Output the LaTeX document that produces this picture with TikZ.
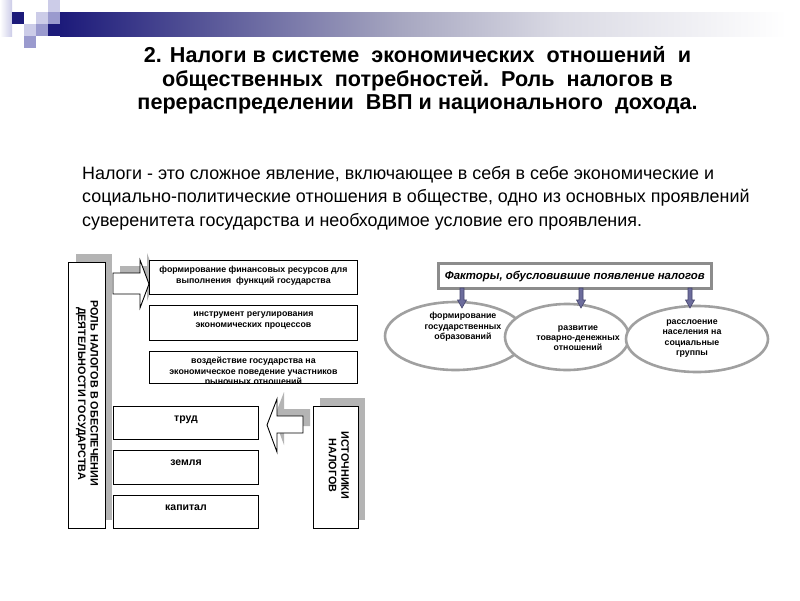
\documentclass[tikz,border=0pt]{standalone}
\usepackage{fontspec}
\setmainfont{Liberation Sans}
\usetikzlibrary{calc,shapes.geometric}
\definecolor{navy}{HTML}{1C1A7A}
\definecolor{lav}{HTML}{CCCCE8}
\definecolor{medlav}{HTML}{9A9ACE}
\definecolor{barmid}{HTML}{A6A6C0}
\definecolor{barlight}{HTML}{DADAE4}
\definecolor{shadowgray}{HTML}{B4B4B4}
\definecolor{ellgray}{HTML}{A0A0A0}
\definecolor{fboxgray}{HTML}{8C8C8C}
\definecolor{arrfill}{HTML}{6C6C9C}
\definecolor{arrdraw}{HTML}{46466E}
\tikzset{
  rbox/.style={draw=black, line width=0.9pt, fill=white, inner sep=0pt},
  shbox/.style={fill=shadowgray, draw=none, inner sep=0pt},
  btext/.style={font=\fontsize{8.8}{10.5}\selectfont\bfseries, align=center, inner sep=0pt},
  ltext/.style={font=\fontsize{10.5}{12}\selectfont\bfseries, align=center, inner sep=0pt},
  vtext/.style={font=\fontsize{10.8}{12.5}\selectfont\bfseries, align=center, inner sep=0pt, rotate=-90},
  ell/.style={draw=ellgray, line width=2.6pt, fill=white},
  etext/.style={font=\fontsize{8.8}{10.3}\selectfont\bfseries, align=center, inner sep=0pt},
  blockarrow/.style={draw=black, line width=0.9pt, fill=white},
  farrow/.style={draw=arrdraw, line width=0.6pt, fill=arrfill}
}
\newcommand{\fArrow}[3]{%
  \draw[farrow] (#1-2,#2) -- (#1+2,#2) -- (#1+2,#3-8) -- (#1+4.5,#3-8) -- (#1,#3)
    -- (#1-4.5,#3-8) -- (#1-2,#3-8) -- cycle;}
\begin{document}
\begin{tikzpicture}[x=1pt,y=-1pt]
\useasboundingbox[fill=white] (0,0) rectangle (800,600);
% --- top decoration ---
\shade[left color=white, right color=lav] (0,0) rectangle (12,36);
\fill[lav] (48,0) rectangle (60,12);
\fill[navy] (12,12) rectangle (24,24);
\fill[lav] (36,12) rectangle (48,24);
\fill[medlav] (48,12) rectangle (60,24);
\fill[lav] (24,24) rectangle (36,36);
\fill[medlav] (36,24) rectangle (48,36);
\fill[navy] (48,24) rectangle (60,36);
\fill[medlav] (24,36) rectangle (36,48);
\shade[left color=navy, right color=barmid] (60,12) rectangle (400,36);
\shade[left color=barmid, right color=barlight] (399.5,12) rectangle (560,36);
\shade[left color=barlight, right color=white] (559.5,12) rectangle (787,36);
% --- title ---
\node[font=\fontsize{21.6}{23.5}\selectfont\bfseries, align=center, inner sep=0pt] (title) at (417.5,80.5)
  {2. Налоги в системе\ \ экономических\ \ отношений\ \ и\\
   общественных\ \ потребностей.\ \ Роль\ \ налогов в\\
   перераспределении\ \ ВВП и национального\ \ дохода.};
% --- paragraph ---
\node[font=\fontsize{17.9}{23.5}\selectfont, align=left, anchor=west, inner sep=0pt] (para) at (82,198)
  {Налоги - это сложное явление, включающее в себя в себе экономические и\\
   социально-политические отношения в обществе, одно из основных проявлений\\
   суверенитета государства и необходимое условие его проявления.};
% --- left diagram ---
\node[shbox, minimum width=36pt, minimum height=266pt, anchor=north west] (roleShadow) at (76,254) {};
\node[rbox, minimum width=37pt, minimum height=266pt, anchor=north west] (role) at (68,262) {};
\node[vtext] (roleText) at ($(role.center)+(0,-2)$) {РОЛЬ НАЛОГОВ В ОБЕСПЕЧЕНИИ\\ДЕЯТЕЛЬНОСТИ ГОСУДАРСТВА};

% right block arrow
\begin{scope}[shift={(7,-7)}]
  \fill[shadowgray] (113,273) -- (140,273) -- (140,260) -- (149,284) -- (140,308) -- (140,294) -- (113,294) -- cycle;
\end{scope}
\draw[blockarrow] (113,273) -- (140,273) -- (140,260) -- (149,284) -- (140,308) -- (140,294) -- (113,294) -- cycle;

\node[rbox, minimum width=208pt, minimum height=34pt, anchor=north west] (b1) at (149,260) {};
\node[btext, anchor=north] (b1t) at ($(b1.north)+(0,6)$) {формирование финансовых ресурсов для\\выполнения\ \ функций государства};
\node[rbox, minimum width=208pt, minimum height=35pt, anchor=north west] (b2) at (149,305) {};
\node[btext, anchor=north] (b2t) at ($(b2.north)+(0,7)$) {инструмент регулирования\\экономических процессов};
\node[rbox, fill=none, minimum width=208pt, minimum height=32pt, anchor=north west] (b3) at (149,351) {};
\begin{scope}
  \clip (149,351) rectangle (357,383.5);
  \node[btext, anchor=north] (b3t) at ($(b3.north)+(0,6)$) {воздействие государства на\\экономическое поведение участников\\рыночных отношений};
\end{scope}
\draw[line width=0.9pt] (b3.north west) rectangle (b3.south east);

\node[rbox, minimum width=145pt, minimum height=33pt, anchor=north west] (trud) at (113,406) {};
\node[ltext, anchor=north] (trudt) at ($(trud.north)+(0,9.5)$) {труд};
\node[rbox, minimum width=145pt, minimum height=34pt, anchor=north west] (zemlya) at (113,450) {};
\node[ltext, anchor=north] (zemlyat) at ($(zemlya.north)+(0,9.5)$) {земля};
\node[rbox, minimum width=145pt, minimum height=33pt, anchor=north west] (kapital) at (113,495) {};
\node[ltext, anchor=north] (kapitalt) at ($(kapital.north)+(0,9.5)$) {капитал};

% left block arrow
\begin{scope}[shift={(7,-7)}]
  \fill[shadowgray] (267,425) -- (277,399) -- (277,416) -- (303,416) -- (303,433) -- (277,433) -- (277,452) -- cycle;
\end{scope}
\draw[blockarrow] (267,425) -- (277,399) -- (277,416) -- (303,416) -- (303,433) -- (277,433) -- (277,452) -- cycle;

\node[shbox, minimum width=45pt, minimum height=122pt, anchor=north west] (srcShadow) at (320,398) {};
\node[rbox, minimum width=45pt, minimum height=122pt, anchor=north west] (src) at (313,406) {};
\node[vtext] (srcText) at ($(src.center)+(3,-2)$) {ИСТОЧНИКИ\\НАЛОГОВ};

% --- right diagram ---
\node[draw=fboxgray, line width=2.6pt, fill=white, minimum width=273pt, minimum height=25pt, inner sep=0pt, anchor=north west] (factors) at (437,262) {};
\node[font=\fontsize{11.4}{13}\selectfont\bfseries\itshape, inner sep=0pt] (factorsText) at ($(factors.center)+(0,0.5)$) {Факторы, обусловившие появление налогов};

\node[ell, minimum width=141pt, minimum height=68pt, ellipse] (e1) at (455.5,336) {};
\node[ell, minimum width=124pt, minimum height=66pt, ellipse] (e2) at (567,337) {};
\node[ell, minimum width=142pt, minimum height=66pt, ellipse] (e3) at (697,339) {};
\node[etext] (e1t) at (463,327) {формирование\\государственных\\образований};
\node[etext] (e2t) at (578,338) {развитие\\товарно-денежных\\отношений};
\node[etext] (e3t) at (692,338.5) {расслоение\\населения на\\социальные\\группы};

\fArrow{462}{288}{308}
\fArrow{581}{288}{308}
\fArrow{690}{288}{308}
\end{tikzpicture}
\end{document}
